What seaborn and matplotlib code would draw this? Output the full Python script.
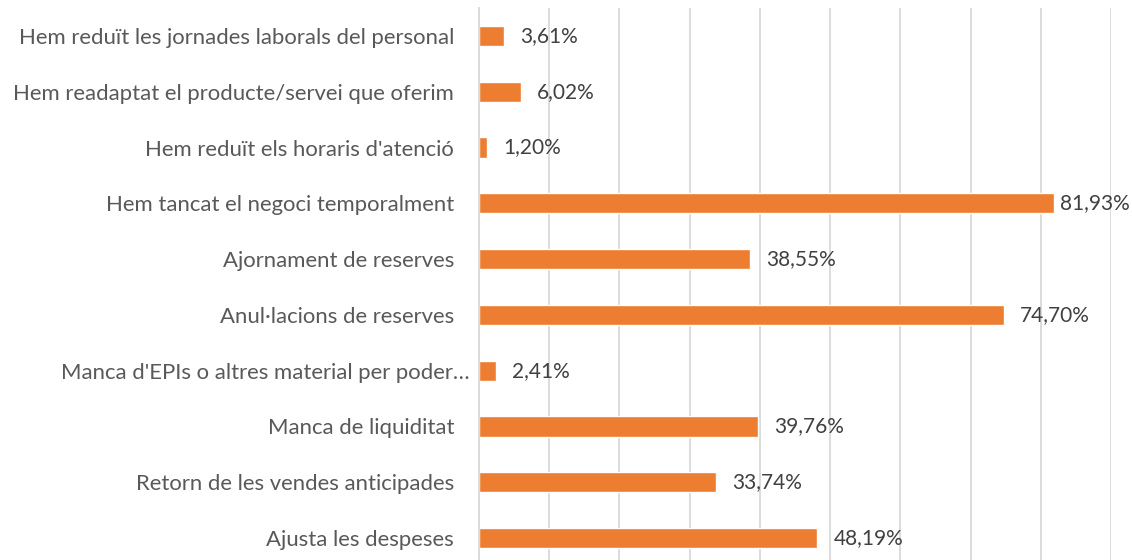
import matplotlib
matplotlib.use("Agg")
import matplotlib.pyplot as plt
import seaborn as sns
import pandas as pd
from matplotlib.ticker import MultipleLocator
from matplotlib.transforms import ScaledTranslation

categories = [
    "Hem reduït les jornades laborals del personal",
    "Hem readaptat el producte/servei que oferim",
    "Hem reduït els horaris d'atenció",
    "Hem tancat el negoci temporalment",
    "Ajornament de reserves",
    "Anul·lacions de reserves",
    "Manca d'EPIs o altres material per poder…",
    "Manca de liquiditat",
    "Retorn de les vendes anticipades",
    "Ajusta les despeses",
]
values = [3.61, 6.02, 1.20, 81.93, 38.55, 74.70, 2.41, 39.76, 33.74, 48.19]

df = pd.DataFrame({"cat": categories, "val": values})

sns.set_theme(style="white")
plt.rcParams["font.family"] = ["Lato", "DejaVu Sans"]

W, H = 1132, 560
FS = 15.9
FSV = 15.0
fig = plt.figure(figsize=(W / 100, H / 100), dpi=100)
left, right, top, bottom = 479, 1111, 8, 566
ax = fig.add_axes([left / W, 1 - bottom / H, (right - left) / W, (bottom - top) / H])

sns.barplot(data=df, y="cat", x="val", orient="h", color="#ED7D31",
            width=0.36, saturation=1, ax=ax)

ax.set_xlim(0, 90)
ax.xaxis.set_major_locator(MultipleLocator(10))
ax.grid(axis="x", color="#D9D9D9", linewidth=1.3)
ax.set_axisbelow(True)
ax.set_xticklabels([])
ax.tick_params(axis="x", length=0)
ax.tick_params(axis="y", length=0, pad=18, labelsize=FS, labelcolor="#595959")
ax.set_xlabel("")
ax.set_ylabel("")
for s in ["top", "right", "bottom"]:
    ax.spines[s].set_visible(False)
ax.spines["left"].set_color("#D9D9D9")
ax.spines["left"].set_linewidth(1.3)

# truncated label sits closer to the axis in the reference
for lab in ax.get_yticklabels():
    if lab.get_text().endswith("…"):
        lab.set_transform(lab.get_transform() + ScaledTranslation(16 / 100, 0, fig.dpi_scale_trans))

texts = []
for i, v in enumerate(values):
    t = ax.text(v, i, f"{v:.2f}".replace(".", ",") + "%", va="center", ha="left",
                fontsize=FSV, color="#404040",
                transform=ax.transData + ScaledTranslation(16 / 100, 0, fig.dpi_scale_trans))
    texts.append(t)

fig.canvas.draw()
r = fig.canvas.get_renderer()
for t in texts:
    bb = t.get_window_extent(r)
    if bb.x1 > W - 2:
        shift = (bb.x1 - (W - 2)) / 100
        t.set_transform(t.get_transform() + ScaledTranslation(-shift, 0, fig.dpi_scale_trans))

fig.savefig("out.png", dpi=100)
